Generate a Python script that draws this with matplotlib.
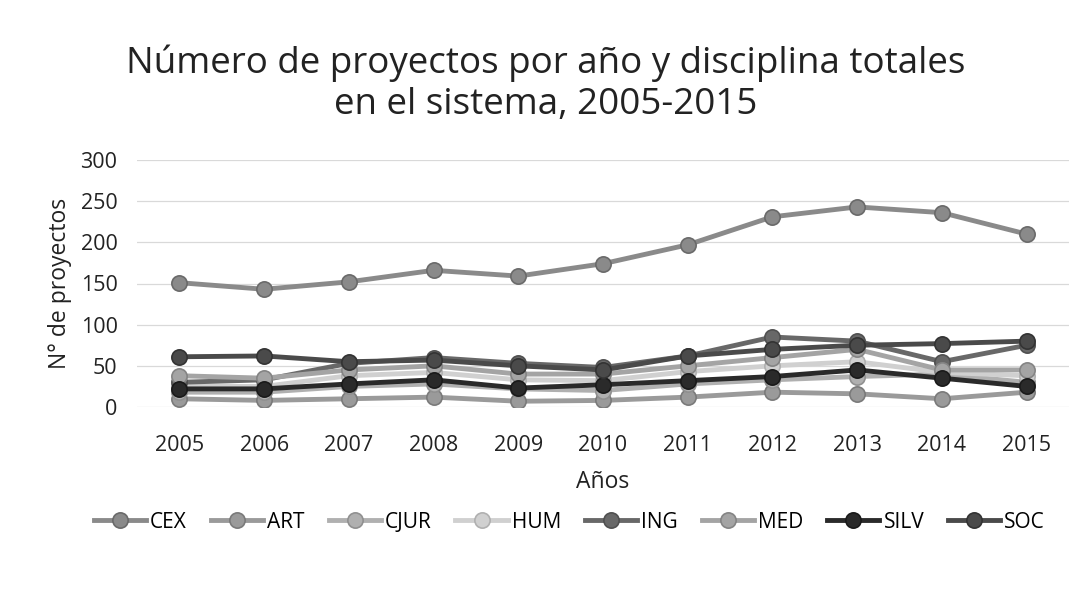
import matplotlib
matplotlib.use("Agg")
import matplotlib.pyplot as plt
from matplotlib.lines import Line2D

plt.rcParams['font.family'] = ['Open Sans', 'DejaVu Sans']

years = ["2005", "2006", "2007", "2008", "2009", "2010", "2011", "2012", "2013", "2014", "2015"]
series_names = ["CEX", "ART", "CJUR", "HUM", "ING", "MED", "SILV", "SOC"]
CEX = [151, 143, 152, 166, 159, 174, 197, 231, 243, 236, 210]
ART = [10, 8, 10, 12, 7, 8, 12, 18, 16, 10, 18]
CJUR = [18, 18, 25, 28, 22, 20, 28, 33, 37, 40, 30]
HUM = [25, 25, 38, 42, 33, 32, 43, 50, 55, 42, 38]
ING = [30, 33, 53, 60, 53, 48, 62, 85, 80, 55, 75]
MED = [38, 35, 45, 50, 40, 40, 50, 60, 70, 45, 45]
SILV = [22, 22, 28, 33, 23, 27, 32, 37, 45, 35, 25]
SOC = [61, 62, 55, 57, 50, 45, 62, 70, 75, 77, 80]
data = [CEX, ART, CJUR, HUM, ING, MED, SILV, SOC]
colors = ["#8a8a8a", "#9a9a9a", "#b0b0b0", "#d0d0d0", "#686868", "#a4a4a4", "#2a2a2a", "#4a4a4a"]
edges = ["#6a6a6a", "#7a7a7a", "#909090", "#b0b0b0", "#505050", "#848484", "#1a1a1a", "#333333"]

fig = plt.figure(figsize=(10.91, 5.89), dpi=100)
ax = fig.add_axes([137/1091, 1 - 407/589, (1069 - 137)/1091, (407 - 160)/589])

x = list(range(len(years)))
for name, vals, c, e in zip(series_names, data, colors, edges):
    ax.plot(x, vals, color=c, lw=3.5, marker='o', markersize=11,
            markerfacecolor=c, markeredgecolor=e, markeredgewidth=1.2, label=name, zorder=3)

ax.set_xlim(-0.5, len(years) - 0.5)
ax.set_ylim(0, 300)
ax.set_yticks(range(0, 301, 50))
ax.set_xticks(x)
ax.set_xticklabels(years)
ax.tick_params(axis='both', length=0, labelsize=15.5, colors='#222222')
ax.tick_params(axis='x', pad=20)
ax.tick_params(axis='y', pad=14)
ax.grid(axis='y', color='#d9d9d9', lw=0.9, zorder=0)
for s in ax.spines.values():
    s.set_visible(False)

ax.set_xlabel("Años", fontsize=16.5, color='#222222', labelpad=10)
ax.set_ylabel("N° de proyectos", fontsize=16.5, color='#222222', labelpad=6)

fig.text(0.5, 1 - 84/589, "Número de proyectos por año y disciplina totales\nen el sistema, 2005-2015",
         ha='center', va='center', fontsize=26.5, color='#222222', linespacing=1.2)

handles = [Line2D([0], [0], color=c, lw=3.5, marker='o', markersize=11,
                  markerfacecolor=c, markeredgecolor=e, markeredgewidth=1.2)
           for c, e in zip(colors, edges)]
fig.legend(handles, series_names, loc='center', bbox_to_anchor=(0.522, 1 - 522/589),
           ncol=8, frameon=False, fontsize=15, handlelength=2.5, columnspacing=1.15,
           handletextpad=0.2)

fig.savefig("out.png", dpi=100, facecolor='white')
